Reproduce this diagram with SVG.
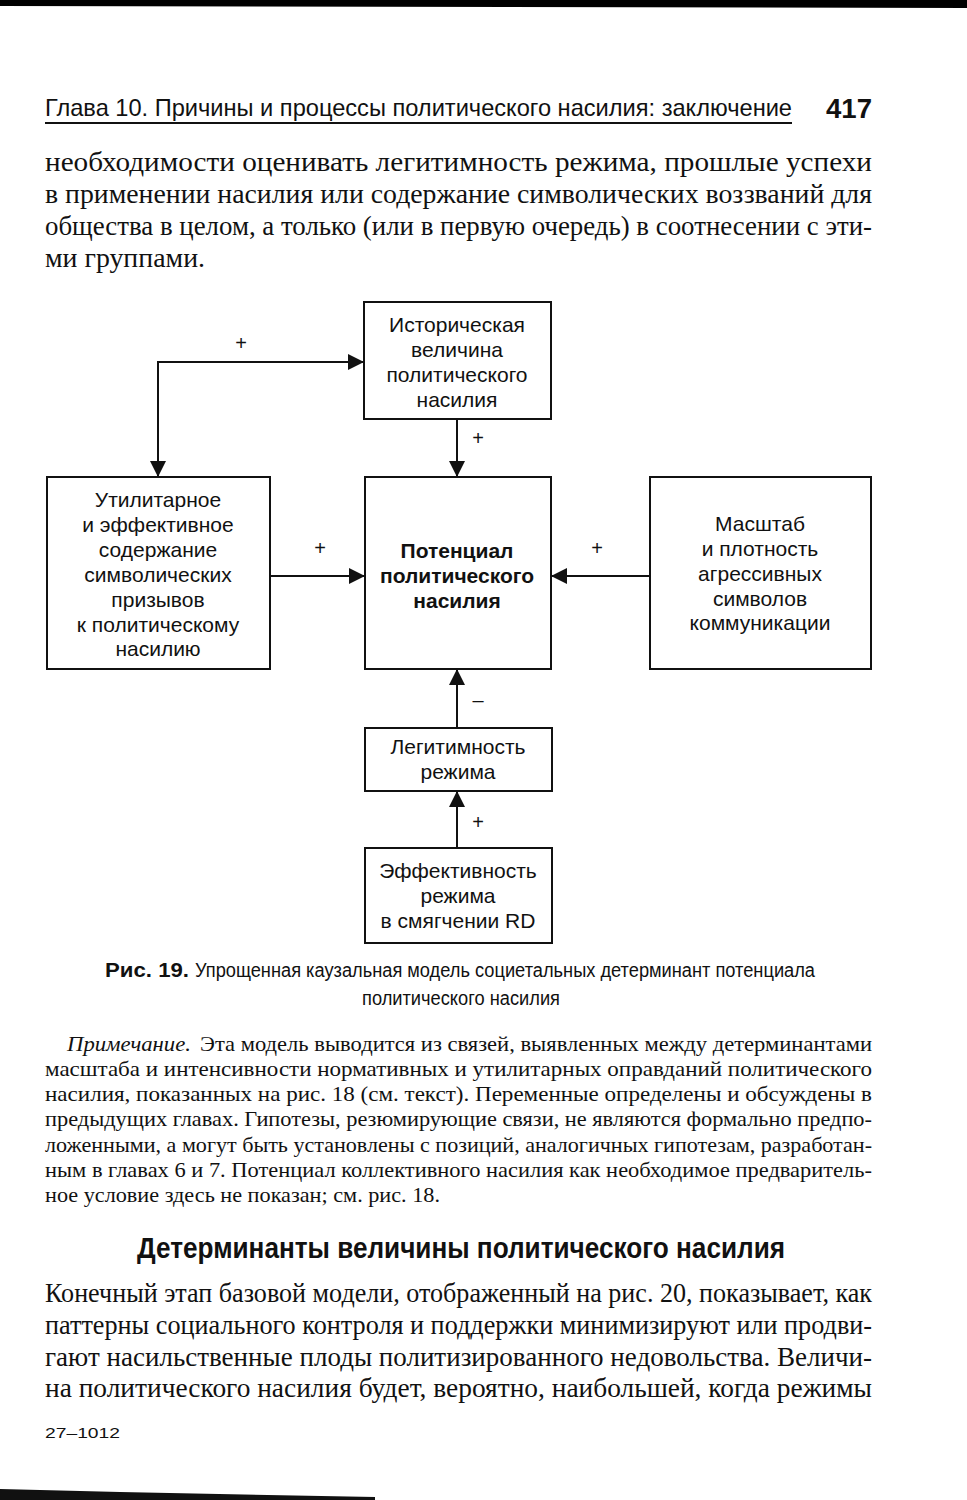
<svg xmlns="http://www.w3.org/2000/svg" width="967" height="1500" viewBox="0 0 967 1500">
<defs>
<style>
.serif{font-family:"Liberation Serif","DejaVu Serif",serif;fill:#111}
.sans{font-family:"Liberation Sans","DejaVu Sans",sans-serif;fill:#111}
.body{font-size:28px}
.note{font-size:21px}
.box{fill:#fff;stroke:#111;stroke-width:2}
.lbl{font-family:"Liberation Sans","DejaVu Sans",sans-serif;font-size:21px;fill:#111;text-anchor:middle}
.sign{font-family:"Liberation Sans","DejaVu Sans",sans-serif;font-size:20px;fill:#111;text-anchor:middle}
.conn{fill:none;stroke:#111;stroke-width:2}
</style>
<marker id="ah" viewBox="0 0 10 10" refX="10" refY="5" markerWidth="16" markerHeight="16" markerUnits="userSpaceOnUse" orient="auto-start-reverse">
<path d="M0,0 L10,5 L0,10 z" fill="#111"/>
</marker>
</defs>
<rect width="967" height="1500" fill="#fff"/>
<!-- scan edges -->
<polygon points="0,0 967,0 967,8 0,6" fill="#000"/>
<polygon points="0,1489 120,1492 375,1497 375,1500 0,1500" fill="#111"/>

<!-- header -->
<text class="sans" x="45" y="116" font-size="24" textLength="747" lengthAdjust="spacingAndGlyphs">Глава 10. Причины и процессы политического насилия: заключение</text>
<line x1="45" y1="123" x2="792" y2="123" stroke="#111" stroke-width="2"/>
<text class="sans" x="826" y="118" font-size="28" font-weight="bold" textLength="46" lengthAdjust="spacingAndGlyphs">417</text>

<!-- top paragraph -->
<text class="serif body" x="45" y="171" textLength="827" lengthAdjust="spacingAndGlyphs">необходимости оценивать легитимность режима, прошлые успехи</text>
<text class="serif body" x="45" y="203" textLength="827" lengthAdjust="spacingAndGlyphs">в применении насилия или содержание символических воззваний для</text>
<text class="serif body" x="45" y="235" textLength="827" lengthAdjust="spacingAndGlyphs">общества в целом, а только (или в первую очередь) в соотнесении с эти-</text>
<text class="serif body" x="45" y="267" textLength="160" lengthAdjust="spacingAndGlyphs">ми группами.</text>

<!-- connectors -->
<g id="connectors">
<polyline class="conn" points="158,477 158,362 364,362" marker-start="url(#ah)" marker-end="url(#ah)"/>
<line class="conn" x1="457" y1="419" x2="457" y2="477" marker-end="url(#ah)"/>
<line class="conn" x1="270" y1="576" x2="365" y2="576" marker-end="url(#ah)"/>
<line class="conn" x1="650" y1="576" x2="551" y2="576" marker-end="url(#ah)"/>
<line class="conn" x1="457" y1="728" x2="457" y2="669" marker-end="url(#ah)"/>
<line class="conn" x1="457" y1="848" x2="457" y2="791" marker-end="url(#ah)"/>
<text class="sign" x="241" y="350">+</text>
<text class="sign" x="478" y="445">+</text>
<text class="sign" x="320" y="555">+</text>
<text class="sign" x="597" y="555">+</text>
<text class="sign" x="478" y="707">–</text>
<text class="sign" x="478" y="829">+</text>
</g>

<!-- nodes -->
<g id="node-historical">
<rect class="box" x="364" y="302" width="187" height="117"/>
<text class="lbl" x="457" y="332">Историческая</text>
<text class="lbl" x="457" y="357">величина</text>
<text class="lbl" x="457" y="382">политического</text>
<text class="lbl" x="457" y="407">насилия</text>
</g>
<g id="node-utilitarian">
<rect class="box" x="47" y="477" width="223" height="192"/>
<text class="lbl" x="158" y="507">Утилитарное</text>
<text class="lbl" x="158" y="532">и эффективное</text>
<text class="lbl" x="158" y="557">содержание</text>
<text class="lbl" x="158" y="582">символических</text>
<text class="lbl" x="158" y="607">призывов</text>
<text class="lbl" x="158" y="632">к политическому</text>
<text class="lbl" x="158" y="656">насилию</text>
</g>
<g id="node-potential">
<rect class="box" x="365" y="477" width="186" height="192"/>
<text class="lbl" x="457" y="558" font-weight="bold">Потенциал</text>
<text class="lbl" x="457" y="583" font-weight="bold">политического</text>
<text class="lbl" x="457" y="608" font-weight="bold">насилия</text>
</g>
<g id="node-scale">
<rect class="box" x="650" y="477" width="221" height="192"/>
<text class="lbl" x="760" y="531">Масштаб</text>
<text class="lbl" x="760" y="556">и плотность</text>
<text class="lbl" x="760" y="581">агрессивных</text>
<text class="lbl" x="760" y="606">символов</text>
<text class="lbl" x="760" y="630">коммуникации</text>
</g>
<g id="node-legitimacy">
<rect class="box" x="365" y="728" width="187" height="63"/>
<text class="lbl" x="458" y="754">Легитимность</text>
<text class="lbl" x="458" y="779">режима</text>
</g>
<g id="node-effectiveness">
<rect class="box" x="365" y="848" width="187" height="95"/>
<text class="lbl" x="458" y="878">Эффективность</text>
<text class="lbl" x="458" y="903">режима</text>
<text class="lbl" x="458" y="928">в смягчении RD</text>
</g>

<!-- caption -->
<text class="sans" x="105" y="977" font-size="20" font-weight="bold" textLength="84" lengthAdjust="spacingAndGlyphs">Рис. 19.</text>
<text class="sans" x="195" y="977" font-size="20" textLength="620" lengthAdjust="spacingAndGlyphs">Упрощенная каузальная модель социетальных детерминант потенциала</text>
<text class="sans" x="362" y="1005" font-size="20" textLength="198" lengthAdjust="spacingAndGlyphs">политического насилия</text>

<!-- note -->
<text class="serif note" x="67" y="1051" font-style="italic" textLength="124" lengthAdjust="spacingAndGlyphs">Примечание.</text>
<text class="serif note" x="200" y="1051" textLength="672" lengthAdjust="spacingAndGlyphs">Эта модель выводится из связей, выявленных между детерминантами</text>
<text class="serif note" x="45" y="1076" textLength="827" lengthAdjust="spacingAndGlyphs">масштаба и интенсивности нормативных и утилитарных оправданий политического</text>
<text class="serif note" x="45" y="1101" textLength="827" lengthAdjust="spacingAndGlyphs">насилия, показанных на рис. 18 (см. текст). Переменные определены и обсуждены в</text>
<text class="serif note" x="45" y="1126" textLength="827" lengthAdjust="spacingAndGlyphs">предыдущих главах. Гипотезы, резюмирующие связи, не являются формально предпо-</text>
<text class="serif note" x="45" y="1152" textLength="827" lengthAdjust="spacingAndGlyphs">ложенными, а могут быть установлены с позиций, аналогичных гипотезам, разработан-</text>
<text class="serif note" x="45" y="1177" textLength="827" lengthAdjust="spacingAndGlyphs">ным в главах 6 и 7. Потенциал коллективного насилия как необходимое предваритель-</text>
<text class="serif note" x="45" y="1202" textLength="395" lengthAdjust="spacingAndGlyphs">ное условие здесь не показан; см. рис. 18.</text>

<!-- heading -->
<text class="sans" x="137" y="1258" font-size="30" font-weight="bold" textLength="648" lengthAdjust="spacingAndGlyphs">Детерминанты величины политического насилия</text>

<!-- bottom paragraph -->
<text class="serif body" x="45" y="1302" textLength="827" lengthAdjust="spacingAndGlyphs">Конечный этап базовой модели, отображенный на рис. 20, показывает, как</text>
<text class="serif body" x="45" y="1334" textLength="827" lengthAdjust="spacingAndGlyphs">паттерны социального контроля и поддержки минимизируют или продви-</text>
<text class="serif body" x="45" y="1366" textLength="827" lengthAdjust="spacingAndGlyphs">гают насильственные плоды политизированного недовольства. Величи-</text>
<text class="serif body" x="45" y="1397" textLength="827" lengthAdjust="spacingAndGlyphs">на политического насилия будет, вероятно, наибольшей, когда режимы</text>

<!-- footer -->
<text class="sans" x="45" y="1438" font-size="15" textLength="75" lengthAdjust="spacingAndGlyphs">27–1012</text>
</svg>
